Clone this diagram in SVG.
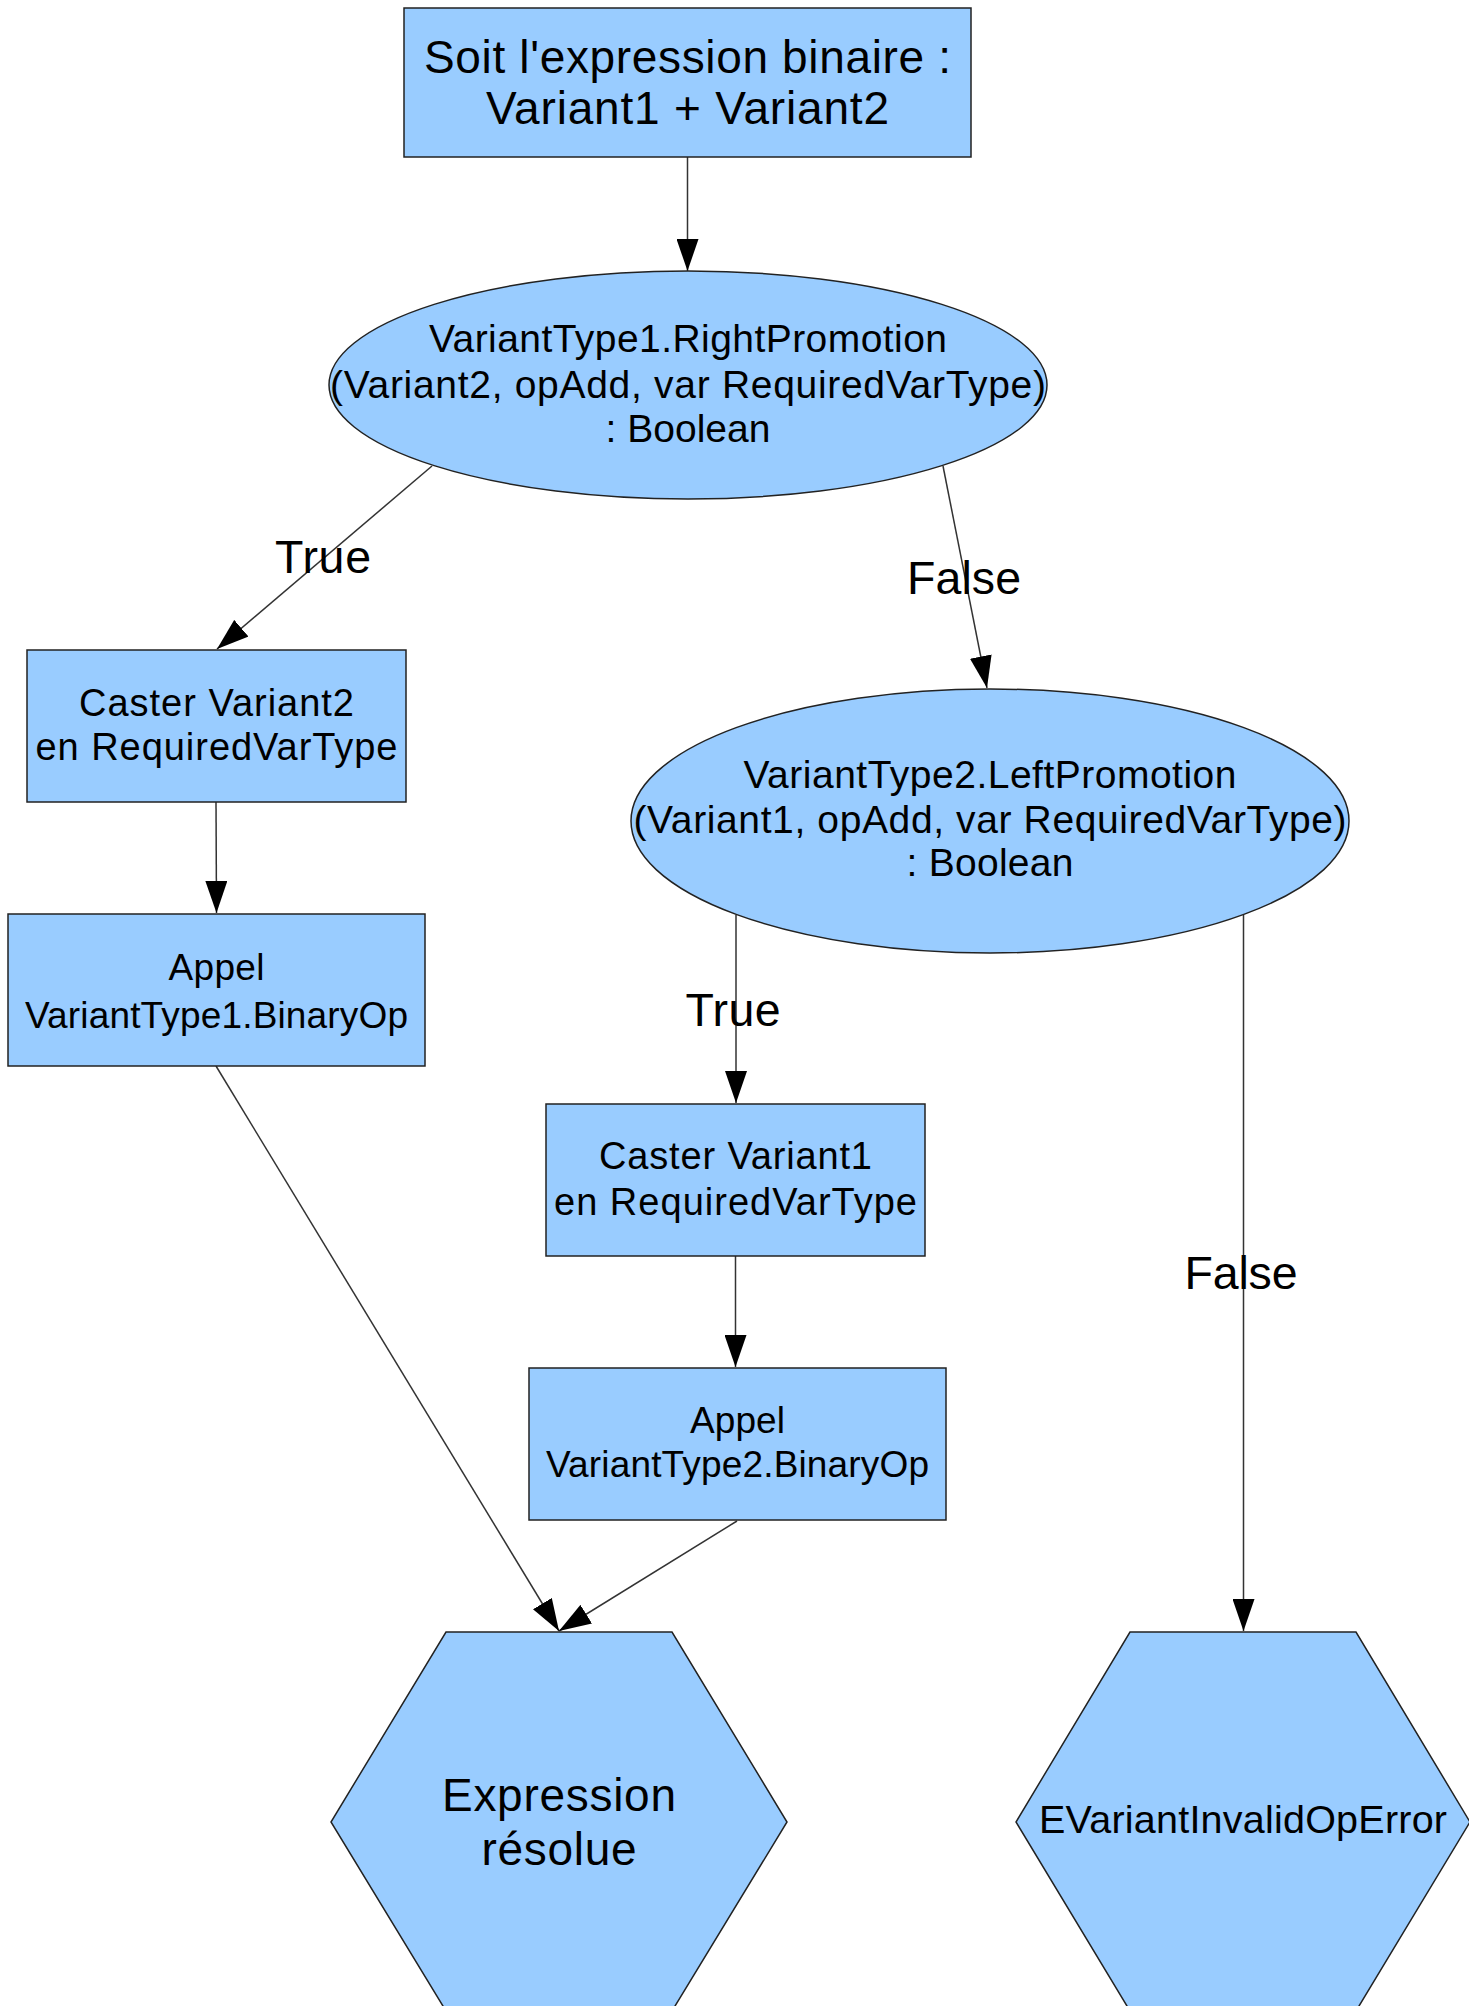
<svg xmlns="http://www.w3.org/2000/svg" width="1469" height="2006" viewBox="0 0 1469 2006">
<style>
.n{fill:#99ccff;stroke:#222;stroke-width:1.5}
.t{font-family:"Liberation Sans",Arial,sans-serif;fill:#000;text-anchor:middle}
.e{fill:none;stroke:#333;stroke-width:1.5;marker-end:url(#ah)}
.l{font-family:"Liberation Sans",Arial,sans-serif;fill:#000;text-anchor:middle;font-size:46.5px}
</style>
<defs>
<marker id="ah" markerUnits="userSpaceOnUse" markerWidth="32" markerHeight="22" refX="32" refY="11" orient="auto">
<path d="M0,0 L32,11 L0,22 z" fill="#000"/>
</marker>
</defs>
<rect width="1469" height="2006" fill="#fff"/>
<g id="connectors">
<path class="e" d="M687.5,157 L687.5,271"/>
<path class="e" d="M432,466 L217,649"/>
<path class="e" d="M943,466 L987,688"/>
<path class="e" d="M216,802 L216.5,913"/>
<path class="e" d="M216,1066 L559,1631"/>
<path class="e" d="M736,915 L736,1103"/>
<path class="e" d="M1243.5,915 L1243.5,1631"/>
<path class="e" d="M735.5,1256 L735.5,1367"/>
<path class="e" d="M737,1521 L559,1631"/>
<text class="l" x="323" y="573" textLength="96" lengthAdjust="spacing">True</text>
<text class="l" x="964" y="594" textLength="114" lengthAdjust="spacing">False</text>
<text class="l" x="733" y="1026" textLength="95" lengthAdjust="spacing">True</text>
<text class="l" x="1241" y="1289" textLength="113" lengthAdjust="spacing">False</text>
</g>
<g id="start">
<rect class="n" x="404" y="8" width="567" height="149"/>
<text class="t" x="687.5" y="73" font-size="46" textLength="527" lengthAdjust="spacing">Soit l'expression binaire :</text>
<text class="t" x="687.5" y="124" font-size="46" textLength="403" lengthAdjust="spacing">Variant1 + Variant2</text>
</g>
<g id="rightPromotion">
<ellipse class="n" cx="688" cy="385" rx="359" ry="114"/>
<text class="t" x="688" y="352" font-size="39" textLength="518" lengthAdjust="spacing">VariantType1.RightPromotion</text>
<text class="t" x="688" y="398" font-size="39" textLength="716" lengthAdjust="spacing">(Variant2, opAdd, var RequiredVarType)</text>
<text class="t" x="688" y="442" font-size="39" textLength="165" lengthAdjust="spacing">: Boolean</text>
</g>
<g id="cast2">
<rect class="n" x="27" y="650" width="379" height="152"/>
<text class="t" x="216.5" y="716" font-size="38" textLength="275" lengthAdjust="spacing">Caster Variant2</text>
<text class="t" x="216.5" y="760" font-size="38" textLength="362" lengthAdjust="spacing">en RequiredVarType</text>
</g>
<g id="call1">
<rect class="n" x="8" y="914" width="417" height="152"/>
<text class="t" x="216.5" y="980" font-size="37" textLength="96" lengthAdjust="spacing">Appel</text>
<text class="t" x="216.5" y="1028" font-size="37" textLength="383" lengthAdjust="spacing">VariantType1.BinaryOp</text>
</g>
<g id="leftPromotion">
<ellipse class="n" cx="990" cy="821" rx="359" ry="132"/>
<text class="t" x="990" y="788" font-size="39" textLength="493" lengthAdjust="spacing">VariantType2.LeftPromotion</text>
<text class="t" x="990" y="833" font-size="39" textLength="713" lengthAdjust="spacing">(Variant1, opAdd, var RequiredVarType)</text>
<text class="t" x="990" y="876" font-size="39" textLength="167" lengthAdjust="spacing">: Boolean</text>
</g>
<g id="cast1">
<rect class="n" x="546" y="1104" width="379" height="152"/>
<text class="t" x="735.5" y="1169" font-size="38" textLength="273" lengthAdjust="spacing">Caster Variant1</text>
<text class="t" x="735.5" y="1215" font-size="38" textLength="363" lengthAdjust="spacing">en RequiredVarType</text>
</g>
<g id="call2">
<rect class="n" x="529" y="1368" width="417" height="152"/>
<text class="t" x="737.5" y="1433" font-size="37" textLength="95" lengthAdjust="spacing">Appel</text>
<text class="t" x="737.5" y="1477" font-size="37" textLength="383" lengthAdjust="spacing">VariantType2.BinaryOp</text>
</g>
<g id="resolved">
<polygon class="n" points="446,1632 672,1632 787,1822 672,2011 446,2011 331,1822"/>
<text class="t" x="559" y="1811" font-size="46" textLength="234" lengthAdjust="spacing">Expression</text>
<text class="t" x="559" y="1865" font-size="46" textLength="155" lengthAdjust="spacing">résolue</text>
</g>
<g id="error">
<polygon class="n" points="1130,1632 1356,1632 1470,1822 1356,2011 1130,2011 1016,1822"/>
<text class="t" x="1243" y="1833" font-size="39.5" textLength="408" lengthAdjust="spacing">EVariantInvalidOpError</text>
</g>
</svg>
